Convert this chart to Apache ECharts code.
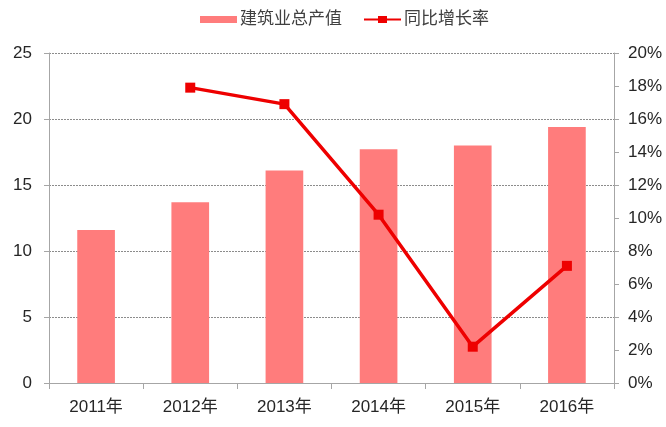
<!DOCTYPE html>
<html><head><meta charset="utf-8">
<script src="https://cdn.jsdelivr.net/npm/echarts@6/dist/echarts.min.js"></script>
<style>html,body{margin:0;padding:0;background:#fff}#c{width:666px;height:427px}</style>
</head><body><div id="c"></div>
<script>
var categories = ['2011年','2012年','2013年','2014年','2015年','2016年'];
var outputValues = [11.6, 13.7, 16.1, 17.7, 18.0, 19.4];
var growthRates = [null, 17.9, 16.9, 10.2, 2.2, 7.1];
var leftTicks = [0, 5, 10, 15, 20, 25];
var rightTicks = [0, 2, 4, 6, 8, 10, 12, 14, 16, 18, 20];

var font = '"Liberation Sans", Arial, "Noto Sans CJK SC", sans-serif';
var txt = '#262626';
var chart = echarts.init(document.getElementById('c'));
chart.setOption({
  animation: false,
  textStyle: { fontFamily: font },
  legend: {
    top: 6, left: 195, itemGap: 22, itemWidth: 37, itemHeight: 7,
    textStyle: { fontSize: 17, color: '#404040', fontFamily: font, padding: [0, 0, 0, -2] },
    data: [
      { name: '建筑业总产值', icon: 'rect' },
      { name: '同比增长率', icon: 'path://M0,2.5 h14 v-2.5 h9 v2.5 h14 v2 h-14 v2.5 h-9 v-2.5 h-14 z', itemStyle: { color: '#ee0000' } }
    ]
  },
  grid: { left: 49, right: 52, top: 53, bottom: 44 },
  xAxis: {
    type: 'category', data: categories,
    axisLine: { lineStyle: { color: '#a6a6a6', width: 1 } },
    axisTick: { show: true, length: 6, lineStyle: { color: '#a6a6a6' } },
    axisLabel: { fontSize: 17, color: txt, margin: 16, fontFamily: font }
  },
  yAxis: [
    {
      type: 'value', min: leftTicks[0], max: leftTicks[leftTicks.length - 1], interval: 5,
      axisLine: { show: true, lineStyle: { color: '#a6a6a6' } },
      axisTick: { show: true, length: 5, lineStyle: { color: '#a6a6a6' } },
      axisLabel: { fontSize: 17, color: txt, margin: 17, fontFamily: font },
      splitLine: { show: true, lineStyle: { color: '#8c8c8c', type: [2, 1], width: 1 } }
    },
    {
      type: 'value', min: rightTicks[0], max: rightTicks[rightTicks.length - 1], interval: 2,
      axisLine: { show: true, lineStyle: { color: '#a6a6a6' } },
      axisTick: { show: true, length: 5, lineStyle: { color: '#a6a6a6' } },
      axisLabel: { fontSize: 17, color: txt, margin: 14, fontFamily: font, formatter: '{value}%' },
      splitLine: { show: false }
    }
  ],
  series: [
    {
      name: '建筑业总产值', type: 'bar', data: outputValues, yAxisIndex: 0,
      barWidth: '40%', itemStyle: { color: '#ff7c7c' }
    },
    {
      name: '同比增长率', type: 'line', data: growthRates, yAxisIndex: 1,
      symbol: 'rect', symbolSize: 10, connectNulls: false,
      lineStyle: { color: '#ee0000', width: 3.5 },
      itemStyle: { color: '#ee0000' }
    }
  ]
});
</script></body></html>
